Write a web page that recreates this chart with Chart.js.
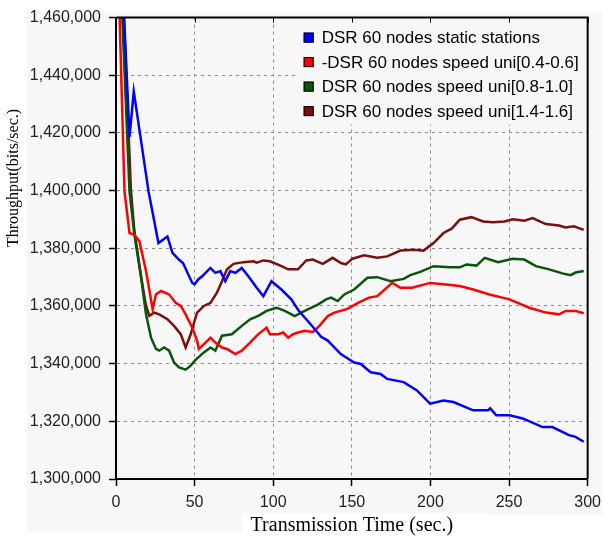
<!DOCTYPE html>
<html>
<head>
<meta charset="utf-8">
<script src="https://cdn.jsdelivr.net/npm/chart.js@4/dist/chart.umd.min.js"></script>
<style>
  html, body { margin: 0; padding: 0; background: #fff; }
  #wrap { width: 608px; height: 542px; }
</style>
</head>
<body>
<div id="wrap"><canvas id="canvas" width="608" height="542"></canvas></div>
<script>
// series labels
const seriesLabels = [
    'DSR 60 nodes static stations',
    '-DSR 60 nodes speed uni[0.4-0.6]',
    'DSR 60 nodes speed uni[0.8-1.0]',
    'DSR 60 nodes speed uni[1.4-1.6]'
];
const seriesColors = ['#0000ff', '#ff0000', '#0b540b', '#7a0f0f'];

// static stations (blue)
const staticTime = [2, 5, 8.6, 11.3, 20.7, 27, 32.7, 35.9, 40, 42.6, 48.5, 50, 52.3, 54.8, 60, 63.2, 66.4, 69.5, 72.7, 76, 80, 84.2, 89.5, 93.7, 98.9, 105.2, 111.5, 116, 124.2, 130.5, 134.7, 143, 151.5, 155.7, 162, 168.3, 172.5, 183, 191.4, 199.8, 208.3, 214.6, 227.2, 236.6, 238, 241.9, 250.3, 258.7, 271.3, 277.6, 288.1, 292.3, 297.5];
const staticThroughput = [1490000, 1462000, 1418600, 1434400, 1399700, 1381800, 1384100, 1378400, 1376100, 1374900, 1368000, 1367500, 1369200, 1370300, 1373200, 1371500, 1372100, 1368600, 1372100, 1371500, 1373200, 1370300, 1366300, 1363400, 1368600, 1365700, 1362300, 1358500, 1353400, 1349300, 1348000, 1343300, 1340400, 1339900, 1337000, 1336400, 1334700, 1333600, 1330700, 1326100, 1327200, 1326700, 1323800, 1323800, 1324500, 1322100, 1322100, 1321000, 1318000, 1318000, 1315200, 1314600, 1312900];

// speed uni[0.4-0.6] (red)
const slowTime = [0.5, 2.3, 5.4, 8.6, 11.7, 14.9, 19.1, 23.3, 25.4, 28.6, 33.8, 38, 41.2, 44.3, 48.5, 51.6, 52.7, 55.9, 60.1, 63.2, 67.4, 70.6, 75.9, 80, 85.3, 90.5, 95.8, 97.9, 103.2, 106.3, 109.5, 112.6, 115.8, 120, 125.2, 129.4, 134.7, 138.9, 147.3, 153.6, 161, 166.2, 175.7, 180.9, 188.3, 199.8, 208.3, 218.7, 227.2, 237.6, 250.3, 262.9, 273.4, 281.8, 286, 292.3, 297.5];
const slowThroughput = [1490000, 1460000, 1399700, 1385300, 1384700, 1382400, 1372100, 1358900, 1364000, 1365200, 1364000, 1361100, 1360000, 1357100, 1352500, 1347900, 1345100, 1346800, 1349000, 1347300, 1345600, 1345100, 1343300, 1344500, 1347300, 1350200, 1352500, 1350200, 1350200, 1350800, 1349000, 1350200, 1350800, 1351400, 1351000, 1353100, 1356500, 1357700, 1359000, 1361000, 1362900, 1363400, 1368000, 1366300, 1366300, 1368000, 1367500, 1366900, 1365700, 1364000, 1362300, 1359400, 1357700, 1357100, 1358300, 1358300, 1357500];

// speed uni[0.8-1.0] (green)
const midTime = [2, 4, 8.6, 11.7, 16, 19.1, 22.3, 25.4, 27.5, 30.6, 33.8, 36.9, 40.1, 44.3, 47.5, 50.6, 55.9, 60.1, 63.2, 67.4, 73.7, 80, 85.3, 90.5, 95.8, 102.1, 107.4, 113.7, 117.8, 122, 128.4, 133.6, 136.8, 141, 145.2, 151.5, 159.9, 166.2, 174.6, 183, 187.2, 193.5, 202, 212.4, 218.7, 223, 229.3, 234.5, 243, 252.4, 259.7, 267.1, 275.5, 283.9, 289.2, 292.3, 297.5];
const midThroughput = [1480000, 1460000, 1399700, 1384700, 1369800, 1357100, 1349000, 1345100, 1344500, 1345600, 1344500, 1340400, 1338700, 1337900, 1339300, 1341300, 1343900, 1345600, 1344500, 1349700, 1350200, 1353100, 1355400, 1356600, 1358300, 1359400, 1358300, 1356500, 1357700, 1358800, 1360500, 1362300, 1362900, 1361700, 1364000, 1365700, 1369800, 1370000, 1368600, 1369400, 1370700, 1371800, 1373800, 1373400, 1373400, 1374400, 1374000, 1376700, 1375200, 1376400, 1376100, 1373800, 1372700, 1371300, 1370700, 1371600, 1372100];

// speed uni[1.4-1.6] (dark red)
const fastTime = [3, 5, 9.5, 11.7, 16, 19.1, 21.2, 24.3, 27.5, 32.7, 36.9, 41.2, 44.3, 47.5, 50.6, 51.6, 55.9, 60.1, 64.2, 67.4, 70.6, 74.8, 81.1, 87.4, 89.5, 93.7, 97.9, 104.2, 109.5, 115.8, 121, 125.2, 131.5, 137.8, 143.1, 146.2, 150.4, 157.8, 166.2, 172.5, 180.9, 189.3, 195.6, 202, 208.3, 213.5, 218.7, 226.1, 233.5, 239.8, 247.1, 252.4, 259.7, 265, 273.4, 281.8, 286, 291.2, 297.5];
const fastThroughput = [1480000, 1460000, 1400000, 1386000, 1370000, 1360000, 1356600, 1357700, 1357100, 1355400, 1353100, 1350200, 1345600, 1350200, 1356000, 1357700, 1360000, 1361100, 1364600, 1368600, 1372700, 1374600, 1375200, 1375500, 1375000, 1375800, 1375500, 1374100, 1372700, 1372700, 1375800, 1376100, 1374600, 1376700, 1374900, 1374400, 1376400, 1377600, 1376700, 1377200, 1379200, 1379500, 1379200, 1381800, 1385300, 1386800, 1389900, 1390800, 1389300, 1389000, 1389300, 1390100, 1389600, 1390500, 1388400, 1387900, 1387200, 1387600, 1386400];

// axes
const xMin = 0, xMax = 300, xStep = 50;
const yMin = 1300000, yMax = 1460000, yStep = 20000;
const xTitle = 'Transmission Time (sec.)';
const yTitle = 'Throughput(bits/sec.)';

function toPoints(times, values) {
    return times.map((t, i) => ({ x: t, y: values[i] }));
}

const seriesTimes = [staticTime, slowTime, midTime, fastTime];
const seriesValues = [staticThroughput, slowThroughput, midThroughput, fastThroughput];

const datasets = seriesLabels.map((label, i) => ({
    label: label,
    data: toPoints(seriesTimes[i], seriesValues[i]),
    borderColor: seriesColors[i],
    backgroundColor: seriesColors[i],
    borderWidth: 2.5,
    pointRadius: 0,
    tension: 0,
    fill: false
}));

// page background, panel and white title boxes
const backdrop = {
    id: 'backdrop',
    beforeDraw(chart) {
        const c = chart.ctx;
        c.save();
        c.fillStyle = '#ffffff';
        c.fillRect(0, 0, chart.width, chart.height);
        c.fillStyle = '#f7f7f7';
        c.fillRect(27, 12, 575, 520);
        c.fillStyle = '#ffffff';
        c.fillRect(242, 513, 250, 29);
        c.fillRect(492, 515, 116, 27);
        c.restore();
    }
};

// frame, inner ticks, legend, axis titles
const decorations = {
    id: 'decorations',
    afterDraw(chart) {
        const c = chart.ctx;
        const a = chart.chartArea;
        const xs = chart.scales.x;
        c.save();
        // legend
        const lx = a.right - 291;
        c.fillStyle = '#f7f7f7';
        c.fillRect(lx, a.top, a.right - lx, 107);
        c.font = '17px "Liberation Sans", Arial, sans-serif';
        c.textBaseline = 'middle';
        c.textAlign = 'left';
        chart.data.datasets.forEach((ds, i) => {
            const cy = a.top + 20 + i * 24.5;
            c.fillStyle = ds.borderColor;
            c.fillRect(lx + 7, cy - 5, 10, 10);
            c.strokeStyle = '#000';
            c.lineWidth = 1;
            c.strokeRect(lx + 7.5, cy - 4.5, 9, 9);
            c.fillStyle = '#000';
            c.fillText(ds.label, lx + 25, cy + 1);
        });
        // frame
        c.strokeStyle = '#000';
        c.lineWidth = 2;
        c.beginPath();
        c.moveTo(a.left, a.top);
        c.lineTo(a.right, a.top);
        c.lineTo(a.right, a.bottom);
        c.stroke();
        // inward ticks at the top
        c.lineWidth = 1;
        xs.ticks.forEach(t => {
            const px = Math.round(xs.getPixelForValue(t.value)) + 0.5;
            c.beginPath();
            c.moveTo(px, a.top);
            c.lineTo(px, a.top + 5);
            c.stroke();
        });
        // titles
        c.fillStyle = '#000';
        c.textAlign = 'center';
        c.textBaseline = 'middle';
        c.font = '20px "Liberation Serif", "Times New Roman", serif';
        c.fillText(xTitle, (a.left + a.right) / 2, 526);
        c.translate(14, 178);
        c.rotate(-Math.PI / 2);
        c.font = '16px "Liberation Serif", "Times New Roman", serif';
        c.fillText(yTitle, 0, 0);
        c.restore();
    }
};

const ctx = document.getElementById('canvas');
const chart = new Chart(ctx, {
    type: 'line',
    data: { datasets: datasets },
    options: {
        responsive: false,
        animation: false,
        layout: { padding: { top: 15, right: 16, left: 0, bottom: 0 } },
        plugins: {
            legend: { display: false },
            tooltip: { enabled: false }
        },
        scales: {
            x: {
                type: 'linear',
                min: xMin,
                max: xMax,
                afterFit(scale) { scale.height = 63; },
                ticks: {
                    stepSize: xStep,
                    padding: 7,
                    color: '#222',
                    font: { family: '"Liberation Sans", Arial, sans-serif', size: 16 },
                    maxRotation: 0
                },
                grid: {
                    color: '#8a8a8a',
                    lineWidth: 1,
                    tickLength: 7,
                    tickColor: '#000',
                    tickWidth: 1.5,
                    tickBorderDash: []
                },
                border: { color: '#000', width: 2, dash: [3, 4] }
            },
            y: {
                min: yMin,
                max: yMax,
                afterFit(scale) { scale.width = 116; },
                ticks: {
                    stepSize: yStep,
                    padding: 8,
                    color: '#222',
                    font: { family: '"Liberation Sans", Arial, sans-serif', size: 16 },
                    callback: v => v.toLocaleString('en-US')
                },
                grid: {
                    color: '#8a8a8a',
                    lineWidth: 1,
                    tickLength: 7,
                    tickColor: '#000',
                    tickWidth: 1.5,
                    tickBorderDash: []
                },
                border: { color: '#000', width: 2, dash: [3, 4] }
            }
        }
    },
    plugins: [backdrop, decorations]
});
</script>
</body>
</html>
